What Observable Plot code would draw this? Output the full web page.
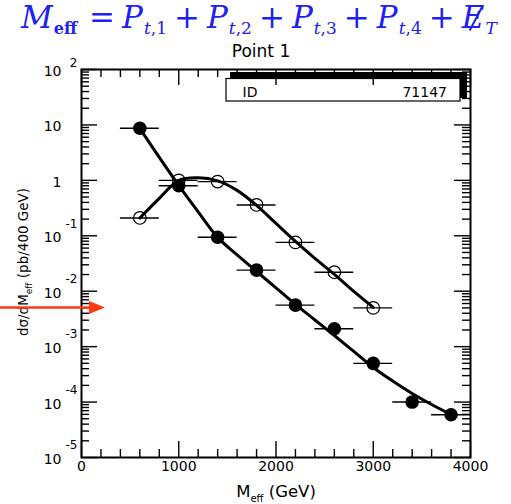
<!DOCTYPE html>
<html>
<head>
<meta charset="utf-8">
<script src="https://cdn.jsdelivr.net/npm/d3@7"></script>
<script src="https://cdn.jsdelivr.net/npm/@observablehq/plot@0.6"></script>
<style>
  body { margin: 0; background: #fff; }
  #wrap { position: relative; width: 511px; height: 504px; overflow: hidden; background: #fff; }
  #chart { position: absolute; left: 0; top: 0; }
  #title { position: absolute; left: 21px; top: -3px; white-space: nowrap; color: #2020f0;
           font-family: "DejaVu Serif", serif; font-style: italic; font-size: 31px; line-height: 40px; }
  #title .op { font-style: normal; margin: 0 7px; }
  #title .eq { font-style: normal; margin: 0 7px 0 12px; }
  #title .sb { font-size: 17px; position: relative; top: 6px; margin-left: 1px; }
  #title .up { font-style: normal; }
  #title .bf { font-style: normal; font-weight: bold; font-size: 16px; }
  #title .slash { position: relative; display: inline-block; }
  #title .slash b { position: absolute; left: 13px; top: 8px; width: 2px; height: 27px;
                    background: #2020f0; transform: rotate(28deg); }
  #point { position: absolute; left: 0; width: 522px; text-align: center; top: 41px;
           font-family: "DejaVu Sans", sans-serif; font-size: 17px; line-height: 20px; color: #000; }
</style>
</head>
<body>
<div id="wrap">
  <div id="chart"></div>
  <div id="title">M<span class="sb bf">eff</span><span class="eq">=</span>P<span class="sb">t<span class="up">,1</span></span><span class="op">+</span>P<span class="sb">t<span class="up">,2</span></span><span class="op">+</span>P<span class="sb">t<span class="up">,3</span></span><span class="op">+</span>P<span class="sb">t<span class="up">,4</span></span><span class="op">+</span><span class="slash">E<b></b></span><span class="sb">T</span></div>
  <div id="point">Point 1</div>
</div>
<script>
// ---- data ----
const massFilled = [600, 1000, 1400, 1800, 2200, 2600, 3000, 3400, 3800];
const sigmaFilled = [8.7, 0.80, 0.094, 0.024, 0.0056, 0.0021, 0.00050, 0.00010, 0.000059];
const massOpen = [600, 1000, 1400, 1800, 2200, 2600, 3000];
const sigmaOpen = [0.21, 1.0, 0.95, 0.36, 0.076, 0.022, 0.0050];
const xErr = 200;

// fitted curves
const fitFilledX = [600, 800, 1000, 1200, 1400, 1600, 1800, 2000, 2200, 2400, 2600, 2800, 3000, 3200, 3400, 3600, 3800];
const fitFilledY = [8.68, 2.60, 0.812, 0.270, 0.0936, 0.0452, 0.0228, 0.01147, 0.00578, 0.00303, 0.00159, 0.000819, 0.000421, 0.000240, 0.000143, 0.0000905, 0.0000597];
const fitOpenX = [600, 800, 1000, 1200, 1400, 1600, 1800, 2000, 2200, 2400, 2600, 2800, 3000];
const fitOpenY = [0.209, 0.473, 1.0, 1.11, 0.979, 0.660, 0.354, 0.167, 0.0792, 0.0391, 0.0201, 0.00992, 0.0051];

// axis ticks and labels
const xMajor = [0, 1000, 2000, 3000, 4000];
const xMinor = d3.range(200, 4000, 200).filter(v => v % 1000 !== 0);
const yMajor = [1e2, 1e1, 1, 1e-1, 1e-2, 1e-3, 1e-4, 1e-5];
const yBase = ["10", "10", "1", "10", "10", "10", "10", "10"];
const yExp = ["2", "", "", "-1", "-2", "-3", "-4", "-5"];
const yMinor = [];
for (let k = -5; k <= 1; k++) for (let m = 2; m <= 9; m++) yMinor.push(m * Math.pow(10, k));

const legendLabel = "ID";
const legendValue = "71147";

// ---- layout ----
const W = 511, H = 504, mt = 69, mb = 47, ml = 81, mr = 41;
const pw = W - ml - mr, ph = H - mt - mb;
const majorLen = 16, minorLen = 8;

const filledRows = massFilled.map((x, i) => ({x, y: sigmaFilled[i]}));
const openRows = massOpen.map((x, i) => ({x, y: sigmaOpen[i]}));
const fitFilledRows = fitFilledX.map((x, i) => ({x, y: fitFilledY[i]}));
const fitOpenRows = fitOpenX.map((x, i) => ({x, y: fitOpenY[i]}));
const yMajorRows = yMajor.map((v, i) => ({v, base: yBase[i], exp: yExp[i]}));

const legendBox = () => {
  const g = d3.create("svg:g");
  g.append("rect").attr("x", 230).attr("y", 72).attr("width", 237).attr("height", 26).attr("fill", "#000");
  g.append("rect").attr("x", 226).attr("y", 78.5).attr("width", 234).attr("height", 22.5)
    .attr("fill", "#fff").attr("stroke", "#000").attr("stroke-width", 1.2);
  g.append("text").attr("x", 250).attr("y", 92).attr("dy", "0.35em")
    .attr("font-family", "DejaVu Sans").attr("font-size", 14).text(legendLabel);
  g.append("text").attr("x", 447).attr("y", 92).attr("dy", "0.35em").attr("text-anchor", "end")
    .attr("font-family", "DejaVu Sans").attr("font-size", 14).text(legendValue);
  return g.node();
};

const annotations = () => {
  const g = d3.create("svg:g").attr("font-family", "DejaVu Sans").attr("fill", "#000");
  // y axis title
  const yt = g.append("text").attr("transform", "translate(28,262) rotate(-90)")
    .attr("text-anchor", "middle").attr("font-size", 13.5);
  yt.append("tspan").text("dσ/dM");
  yt.append("tspan").attr("font-size", 9).attr("dy", 4).text("eff");
  yt.append("tspan").attr("dy", -4).text(" (pb/400 GeV)");
  // x axis title
  const xt = g.append("text").attr("x", 276).attr("y", 497).attr("text-anchor", "middle").attr("font-size", 16.5);
  xt.append("tspan").text("M");
  xt.append("tspan").attr("font-size", 10).attr("dy", 5).text("eff");
  xt.append("tspan").attr("dy", -5).text(" (GeV)");
  // red arrow
  g.append("line").attr("x1", 0).attr("x2", 92).attr("y1", 307.5).attr("y2", 307.5)
    .attr("stroke", "#ff3a12").attr("stroke-width", 2.5);
  g.append("path").attr("d", "M89,301 L105,307.5 L89,314 Z").attr("fill", "#ff3a12");
  return g.node();
};

const tickStyle = {stroke: "#000", strokeWidth: 1.4};

const chart = Plot.plot({
  width: W, height: H,
  marginTop: mt, marginBottom: mb, marginLeft: ml, marginRight: mr,
  style: {background: "transparent", fontFamily: "DejaVu Sans", color: "#000"},
  x: {domain: [0, 4000], axis: null},
  y: {type: "log", domain: [1e-5, 1e2], axis: null},
  marks: [
    legendBox,
    // ticks (inside, mirrored on all four sides)
    Plot.ruleY(yMajor, {y: d => d, insetRight: pw - majorLen, ...tickStyle}),
    Plot.ruleY(yMinor, {y: d => d, insetRight: pw - minorLen, ...tickStyle}),
    Plot.ruleY(yMajor, {y: d => d, insetLeft: pw - majorLen, ...tickStyle}),
    Plot.ruleY(yMinor, {y: d => d, insetLeft: pw - minorLen, ...tickStyle}),
    Plot.ruleX(xMajor, {x: d => d, insetTop: ph - majorLen, ...tickStyle}),
    Plot.ruleX(xMinor, {x: d => d, insetTop: ph - minorLen, ...tickStyle}),
    Plot.ruleX(xMajor, {x: d => d, insetBottom: ph - majorLen, ...tickStyle}),
    Plot.ruleX(xMinor, {x: d => d, insetBottom: ph - minorLen, ...tickStyle}),
    Plot.frame({stroke: "#000", strokeWidth: 2}),
    // tick labels
    Plot.text(xMajor, {x: d => d, frameAnchor: "bottom", dy: 13, text: d => String(d), fontSize: 14, fontFamily: "DejaVu Sans", fill: "#000"}),
    Plot.text(yMajorRows, {y: "v", frameAnchor: "left", dx: -20, dy: 2, textAnchor: "end", text: "base", fontSize: 14, fontFamily: "DejaVu Sans", fill: "#000"}),
    Plot.text(yMajorRows.filter(d => d.exp.startsWith("-")), {y: "v", frameAnchor: "left", dx: -4, dy: -12, textAnchor: "end", text: "exp", fontSize: 12, fontFamily: "DejaVu Sans", fill: "#000"}),
    Plot.text(yMajorRows.filter(d => d.exp && !d.exp.startsWith("-")), {y: "v", frameAnchor: "left", dx: -4, dy: -6, textAnchor: "end", text: "exp", fontSize: 12, fontFamily: "DejaVu Sans", fill: "#000"}),
    // fitted curves
    Plot.line(fitFilledRows, {x: "x", y: "y", curve: "catmull-rom", stroke: "#000", strokeWidth: 3}),
    Plot.line(fitOpenRows, {x: "x", y: "y", curve: "catmull-rom", stroke: "#000", strokeWidth: 3}),
    // horizontal error bars
    Plot.ruleY(openRows, {y: "y", x1: d => d.x - xErr, x2: d => d.x + xErr, stroke: "#000", strokeWidth: 1.4}),
    Plot.ruleY(filledRows, {y: "y", x1: d => d.x - xErr, x2: d => d.x + xErr, stroke: "#000", strokeWidth: 1.4}),
    // markers
    Plot.dot(openRows, {x: "x", y: "y", r: 6.3, fill: "none", stroke: "#000", strokeWidth: 1.2}),
    Plot.dot(filledRows, {x: "x", y: "y", r: 6.8, fill: "#000", stroke: "none"}),
    annotations
  ]
});
document.getElementById("chart").appendChild(chart);
</script>
</body>
</html>
